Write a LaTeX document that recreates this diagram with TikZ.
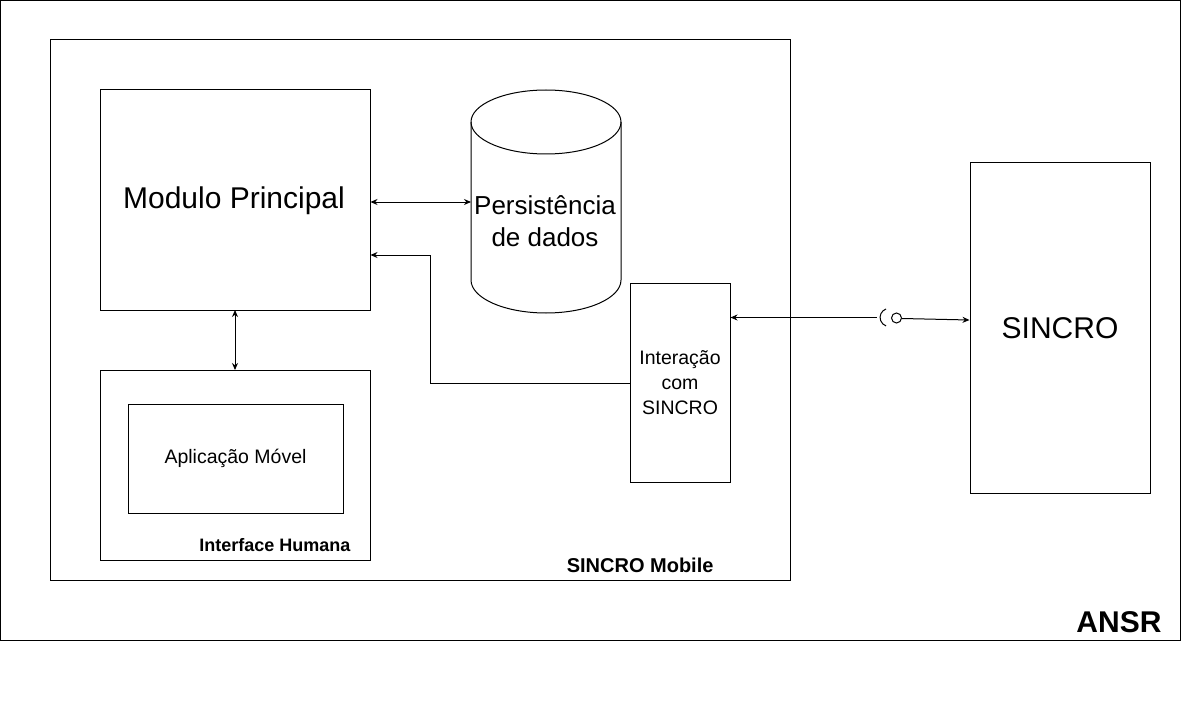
\documentclass[tikz,border=0pt]{standalone}
\usepackage{fontspec}
\setmainfont{Liberation Sans}
\usetikzlibrary{arrows.meta}
\begin{document}
\begin{tikzpicture}[x=1pt,y=-1pt,
  box/.style={draw=black,line width=1pt,fill=white},
  conn/.style={line width=1pt,draw=black},
  tip/.style={-{Stealth[length=7pt,width=6pt]}},
  bitip/.style={{Stealth[length=7pt,width=6pt]}-{Stealth[length=7pt,width=6pt]}},
  bigtxt/.style={font=\fontsize{30}{34}\selectfont},
  midtxt/.style={font=\fontsize{26}{32}\selectfont,align=center},
  smalltxt/.style={font=\fontsize{19.5}{25}\selectfont,align=center},
  boldlbl/.style={font=\bfseries\fontsize{18}{22}\selectfont},
]
\useasboundingbox (0,0) rectangle (1181,706);
\fill[white] (0,0) rectangle (1181,706);
% outer containers
\draw[box] (0.5,0.5) rectangle (1180.5,640);
\node[font=\bfseries\fontsize{30}{34}\selectfont,anchor=east] (ansr) at (1165,622) {ANSR};
\draw[box] (50,40) rectangle (790,580);
\node[font=\bfseries\fontsize{20}{24}\selectfont,anchor=east] (sm) at (717,565) {SINCRO Mobile};
% Modulo principal
\node[box,minimum width=270pt,minimum height=220pt,inner sep=0pt] (mod) at (235,200) {};
\node[bigtxt] (modt) at (234,201) {Modulo Principal};
% cylinder
\draw[box] (471,122) -- (471,280) arc[start angle=180,end angle=0,x radius=75,y radius=33] -- (621,122) arc[start angle=0,end angle=-180,x radius=75,y radius=32] -- cycle;
\draw[conn] (471,122) arc[start angle=180,end angle=0,x radius=75,y radius=32];
\node[midtxt] (db) at (545,221) {Persistência\\de dados};
\coordinate (dbw) at (471,202);
% Interface humana
\node[box,minimum width=270pt,minimum height=190pt,inner sep=0pt] (ih) at (235,465) {};
\node[boldlbl,anchor=east] (iht) at (354,545) {Interface Humana};
\node[box,minimum width=215pt,minimum height=109pt,inner sep=0pt,smalltxt] (app) at (235.5,458.5) {Aplicação Móvel};
% Interacao
\node[box,minimum width=100pt,minimum height=199pt,inner sep=0pt,smalltxt] (inter) at (680,382.5) {Interação\\com\\SINCRO};
% SINCRO
\node[box,minimum width=180pt,minimum height=330pt,inner sep=0pt,bigtxt] (sin) at (1060,328) {SINCRO};
% connectors
\draw[conn,bitip] (mod.east |- 0,202) -- (dbw);
\draw[conn,bitip] (235,310) -- (235,370);
\draw[conn,tip] (inter.west |- 0,383) -- (430,383) -- (430,255) -- (mod.east |- 0,255);
% socket connector
\coordinate (sa) at (877,317.5);
\coordinate (sb) at (902,318.5);
\draw[conn,{Stealth[length=7pt,width=6pt]}-] (inter.east |- 0,317.5) -- (sa);
\draw[conn] (886,309) arc[start angle=250,end angle=110,radius=9];
\draw[line width=1pt,fill=white] (896.5,318) circle[radius=5];
\draw[conn,tip] (sb) -- (sin.west |- 0,320);
\end{tikzpicture}
\end{document}
